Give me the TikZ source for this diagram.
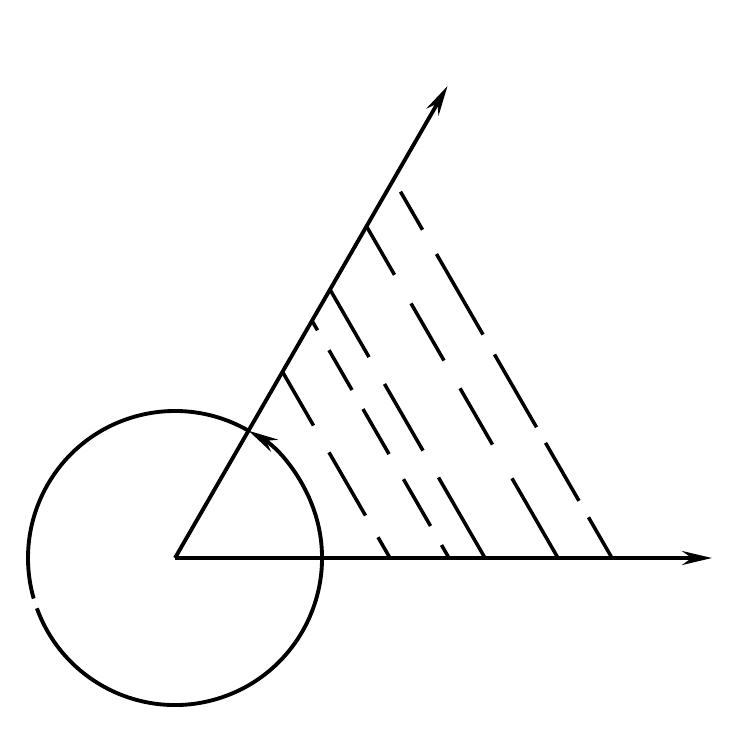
\documentclass[tikz,border=0pt]{standalone}
\usetikzlibrary{arrows.meta}
\begin{document}
\begin{tikzpicture}[>={Stealth[length=3mm,width=1.4mm]},line width=1.1pt,
  hatch/.style={line width=1pt}]
\useasboundingbox (-1.75,-1.77) rectangle (5.76,5.58);
\coordinate (o) at (0,0);
\coordinate (x) at (5.37,0);
\coordinate (y) at (60:5.45);

\draw [->] (o) -- (x);
\draw [->] (o) -- (y);

\draw [->] (200:1.47) arc (200:420:1.47);
\draw (60:1.47) arc (60:196:1.47);

\foreach \t/\pat in {
  2.15/{on 0.62cm off 0.31cm on 0.73cm off 0.25cm on 0.3cm},
  2.74/{on 0.11cm off 0.23cm on 0.46cm off 0.22cm on 0.52cm off 0.29cm on 0.54cm off 0.22cm on 0.2cm},
  3.10/{on 0.78cm off 0.31cm on 0.77cm off 0.31cm on 1cm},
  3.83/{on 0.56cm off 0.33cm on 0.66cm off 0.32cm on 0.65cm off 0.39cm on 1cm},
  4.37/{on 0cm off 0.14cm on 0.44cm off 0.28cm on 0.93cm off 0.23cm on 0.84cm off 0.18cm on 0.67cm off 0.19cm on 0.6cm}}
  \draw [hatch,dash pattern/.expanded=\pat] (60:\t) -- (\t,0);
\end{tikzpicture}
\end{document}
